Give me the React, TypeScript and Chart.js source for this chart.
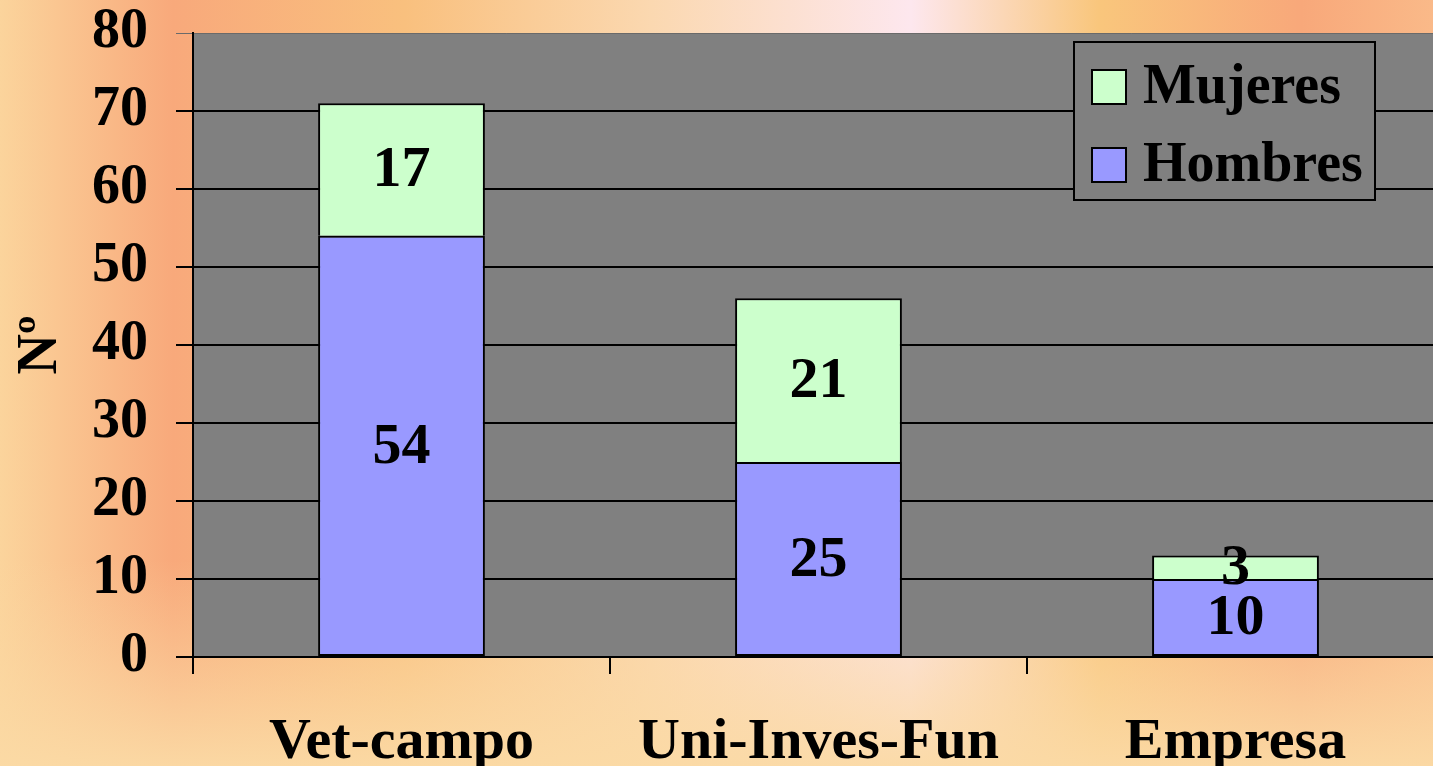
import React, { useEffect, useRef } from "react";
import { Chart, registerables } from "chart.js";

Chart.register(...registerables);

const categories = ["Vet-campo", "Uni-Inves-Fun", "Empresa"];
const hombres = [54, 25, 10];
const mujeres = [17, 21, 3];
const yTicks = { min: 0, max: 80, step: 10 };
const axisTitle = "Nº";

const FONT = "'Liberation Serif', 'Times New Roman', serif";

const bgPlugin = {
  id: "bgPlugin",
  beforeDraw(chart: any) {
    const { ctx, width, height, chartArea } = chart;
    ctx.save();
    const g = ctx.createLinearGradient(0, 0, width, 0);
    g.addColorStop(0, "#FBD49C");
    g.addColorStop(0.12, "#F8A97B");
    g.addColorStop(0.28, "#F9C07E");
    g.addColorStop(0.45, "#FBD8B0");
    g.addColorStop(0.63, "#FDE7EE");
    g.addColorStop(0.76, "#F9C67C");
    g.addColorStop(0.9, "#F8A87A");
    g.addColorStop(1, "#FABB8A");
    ctx.fillStyle = g;
    ctx.fillRect(0, 0, width, height);
    const v = ctx.createLinearGradient(0, 560, 0, height);
    v.addColorStop(0, "rgba(251,214,160,0)");
    v.addColorStop(1, "rgba(251,218,165,0.95)");
    ctx.fillStyle = v;
    ctx.fillRect(0, 560, width, height - 560);
    ctx.fillStyle = "#808080";
    ctx.fillRect(chartArea.left, chartArea.top, chartArea.right - chartArea.left, chartArea.bottom - chartArea.top);
    ctx.restore();
  },
};

const labelPlugin = {
  id: "labelPlugin",
  afterDatasetsDraw(chart: any) {
    const { ctx } = chart;
    ctx.save();
    ctx.font = `bold 58px ${FONT}`;
    ctx.fillStyle = "#000";
    ctx.textAlign = "center";
    ctx.textBaseline = "middle";
    chart.data.datasets.forEach((ds: any, di: number) => {
      const meta = chart.getDatasetMeta(di);
      meta.data.forEach((bar: any, i: number) => {
        const y = (bar.y + bar.base) / 2;
        ctx.fillText(String(ds.data[i]), bar.x, y + 2);
      });
    });
    ctx.restore();
  },
};

const legendPlugin = {
  id: "legendPlugin",
  afterDraw(chart: any) {
    const { ctx, chartArea } = chart;
    const x0 = 1074;
    const y0 = chartArea.top + 9;
    const w = 301;
    const h = 158;
    ctx.save();
    ctx.fillStyle = "#808080";
    ctx.fillRect(x0, y0, w, h);
    ctx.strokeStyle = "#000";
    ctx.lineWidth = 2;
    ctx.strokeRect(x0, y0, w, h);
    const items = [...chart.data.datasets].reverse();
    ctx.font = `bold 56px ${FONT}`;
    ctx.textAlign = "left";
    ctx.textBaseline = "middle";
    items.forEach((ds: any, i: number) => {
      const cy = y0 + 45 + i * 78;
      ctx.fillStyle = ds.backgroundColor;
      ctx.fillRect(x0 + 18, cy - 17, 34, 34);
      ctx.strokeStyle = "#000";
      ctx.lineWidth = 2;
      ctx.strokeRect(x0 + 18, cy - 17, 34, 34);
      ctx.fillStyle = "#000";
      ctx.fillText(ds.label, x0 + 69, cy + 2);
    });
    ctx.restore();
  },
};

export default function App() {
  const ref = useRef<HTMLCanvasElement | null>(null);
  useEffect(() => {
    document.body.style.margin = "0";
    const chart = new Chart(ref.current as HTMLCanvasElement, {
      type: "bar",
      data: {
        labels: categories,
        datasets: [
          {
            label: "Hombres",
            data: hombres,
            backgroundColor: "#9999FF",
            borderColor: "#000",
            borderWidth: 2,
            borderSkipped: false,
            barPercentage: 0.4,
            categoryPercentage: 1,
          },
          {
            label: "Mujeres",
            data: mujeres,
            backgroundColor: "#CCFFCC",
            borderColor: "#000",
            borderWidth: 2,
            borderSkipped: "bottom",
            barPercentage: 0.4,
            categoryPercentage: 1,
          },
        ],
      },
      options: {
        responsive: false,
        animation: false,
        layout: { padding: { top: 33, right: 2, left: 0, bottom: 0 } },
        plugins: { legend: { display: false }, tooltip: { enabled: false } },
        scales: {
          x: {
            stacked: true,
            grid: {
              offset: true,
              drawOnChartArea: false,
              tickLength: 17,
              color: "#000",
              lineWidth: 2,
            },
            border: { display: true, color: "#000", width: 2 },
            ticks: {
              color: "#000",
              font: { family: FONT, size: 58, weight: "bold" },
              padding: 34,
              maxRotation: 0,
              autoSkip: false,
            },
            afterFit(scale: any) {
              scale.height = 109;
              scale.paddingLeft = 0;
              scale.paddingRight = 0;
            },
          },
          y: {
            stacked: true,
            min: yTicks.min,
            max: yTicks.max,
            grid: {
              tickLength: 17,
              color: (c: any) => (c.tick && c.tick.value === yTicks.max ? "#6a6a6a" : "#000"),
              lineWidth: (c: any) => (c.tick && c.tick.value === yTicks.max ? 1 : 2),
            },
            border: { display: true, color: "#000", width: 2 },
            ticks: {
              stepSize: yTicks.step,
              color: "#000",
              font: { family: FONT, size: 56, weight: "bold" },
              padding: 28,
            },
            title: {
              display: true,
              text: axisTitle,
              color: "#000",
              font: { family: FONT, size: 56, weight: "bold" },
              padding: { top: 8, bottom: 0 },
            },
            afterFit(scale: any) {
              scale.width = 193;
              scale.paddingTop = 0;
              scale.paddingBottom = 0;
            },
          },
        },
      },
      plugins: [bgPlugin, labelPlugin, legendPlugin],
    } as any);
    return () => chart.destroy();
  }, []);
  return (
    <div style={{ position: "fixed", left: 0, top: 0, width: 1433, height: 766, overflow: "hidden" }}>
      <canvas ref={ref} width={1446} height={766} style={{ display: "block" }} />
    </div>
  );
}
